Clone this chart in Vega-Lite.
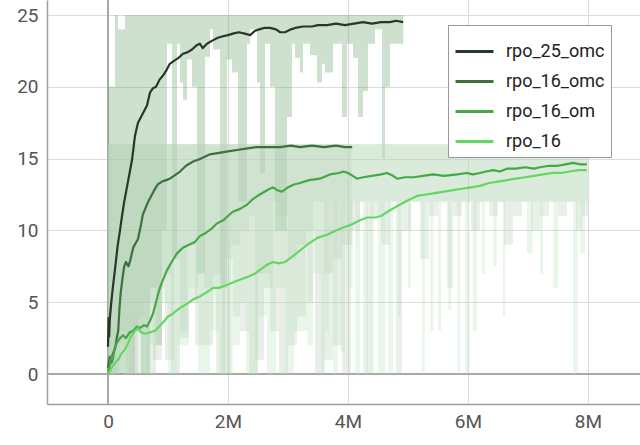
{
  "$schema": "https://vega.github.io/schema/vega-lite/v6.json",
  "autosize": {"type": "none"},
  "width": 593,
  "height": 404,
  "padding": {"left": 47, "top": 0, "right": 0, "bottom": 41},
  "background": "white",
  "config": {
    "view": {"stroke": null},
    "font": "Roboto",
    "axis": {"gridColor": "#dcdcdc", "gridWidth": 1.2, "domainColor": "#9e9e9e", "domainWidth": 1.5, "ticks": false, "labelFont": "Roboto", "labelFontSize": 19, "labelColor": "#555555", "title": null}
  },
  "datasets": {
    "lines": [
      {"run":"rpo_25_omc","step":0,"value":1.9},{"run":"rpo_25_omc","step":0.01,"value":3.9},{"run":"rpo_25_omc","step":0.02,"value":2.6},{"run":"rpo_25_omc","step":0.03,"value":3.8},{"run":"rpo_25_omc","step":0.05,"value":4.8},{"run":"rpo_25_omc","step":0.08,"value":6.0},{"run":"rpo_25_omc","step":0.12,"value":7.4},{"run":"rpo_25_omc","step":0.16,"value":8.9},{"run":"rpo_25_omc","step":0.2,"value":10.0},{"run":"rpo_25_omc","step":0.23,"value":10.9},{"run":"rpo_25_omc","step":0.27,"value":12.0},{"run":"rpo_25_omc","step":0.32,"value":13.1},{"run":"rpo_25_omc","step":0.36,"value":14.0},{"run":"rpo_25_omc","step":0.4,"value":14.9},{"run":"rpo_25_omc","step":0.45,"value":16.6},{"run":"rpo_25_omc","step":0.5,"value":17.5},{"run":"rpo_25_omc","step":0.55,"value":17.9},{"run":"rpo_25_omc","step":0.6,"value":18.3},{"run":"rpo_25_omc","step":0.65,"value":18.7},{"run":"rpo_25_omc","step":0.7,"value":19.6},{"run":"rpo_25_omc","step":0.75,"value":19.9},{"run":"rpo_25_omc","step":0.8,"value":20.0},{"run":"rpo_25_omc","step":0.86,"value":20.5},{"run":"rpo_25_omc","step":0.92,"value":20.8},{"run":"rpo_25_omc","step":0.98,"value":21.2},{"run":"rpo_25_omc","step":1.03,"value":21.6},{"run":"rpo_25_omc","step":1.1,"value":21.8},{"run":"rpo_25_omc","step":1.17,"value":22.0},{"run":"rpo_25_omc","step":1.25,"value":22.3},{"run":"rpo_25_omc","step":1.32,"value":22.4},{"run":"rpo_25_omc","step":1.4,"value":22.6},{"run":"rpo_25_omc","step":1.48,"value":22.9},{"run":"rpo_25_omc","step":1.53,"value":23.0},{"run":"rpo_25_omc","step":1.58,"value":22.7},{"run":"rpo_25_omc","step":1.65,"value":23.0},{"run":"rpo_25_omc","step":1.73,"value":23.2},{"run":"rpo_25_omc","step":1.82,"value":23.4},{"run":"rpo_25_omc","step":1.9,"value":23.5},{"run":"rpo_25_omc","step":2.0,"value":23.6},{"run":"rpo_25_omc","step":2.08,"value":23.7},{"run":"rpo_25_omc","step":2.18,"value":23.8},{"run":"rpo_25_omc","step":2.28,"value":23.7},{"run":"rpo_25_omc","step":2.37,"value":23.6},{"run":"rpo_25_omc","step":2.45,"value":23.9},{"run":"rpo_25_omc","step":2.52,"value":24.0},{"run":"rpo_25_omc","step":2.6,"value":24.1},{"run":"rpo_25_omc","step":2.7,"value":24.1},{"run":"rpo_25_omc","step":2.8,"value":24.0},{"run":"rpo_25_omc","step":2.87,"value":23.8},{"run":"rpo_25_omc","step":2.95,"value":23.8},{"run":"rpo_25_omc","step":3.05,"value":24.0},{"run":"rpo_25_omc","step":3.12,"value":24.1},{"run":"rpo_25_omc","step":3.25,"value":24.2},{"run":"rpo_25_omc","step":3.4,"value":24.2},{"run":"rpo_25_omc","step":3.5,"value":24.3},{"run":"rpo_25_omc","step":3.65,"value":24.3},{"run":"rpo_25_omc","step":3.8,"value":24.4},{"run":"rpo_25_omc","step":3.95,"value":24.3},{"run":"rpo_25_omc","step":4.1,"value":24.4},{"run":"rpo_25_omc","step":4.25,"value":24.5},{"run":"rpo_25_omc","step":4.4,"value":24.4},{"run":"rpo_25_omc","step":4.55,"value":24.5},{"run":"rpo_25_omc","step":4.7,"value":24.5},{"run":"rpo_25_omc","step":4.8,"value":24.6},{"run":"rpo_25_omc","step":4.92,"value":24.5},
      {"run":"rpo_16_omc","step":0,"value":0.4},{"run":"rpo_16_omc","step":0.03,"value":1.2},{"run":"rpo_16_omc","step":0.06,"value":0.8},{"run":"rpo_16_omc","step":0.09,"value":1.5},{"run":"rpo_16_omc","step":0.12,"value":1.8},{"run":"rpo_16_omc","step":0.15,"value":2.6},{"run":"rpo_16_omc","step":0.17,"value":3.0},{"run":"rpo_16_omc","step":0.19,"value":4.5},{"run":"rpo_16_omc","step":0.21,"value":5.6},{"run":"rpo_16_omc","step":0.24,"value":6.6},{"run":"rpo_16_omc","step":0.27,"value":7.5},{"run":"rpo_16_omc","step":0.3,"value":7.8},{"run":"rpo_16_omc","step":0.34,"value":7.5},{"run":"rpo_16_omc","step":0.37,"value":7.9},{"run":"rpo_16_omc","step":0.42,"value":8.8},{"run":"rpo_16_omc","step":0.46,"value":9.1},{"run":"rpo_16_omc","step":0.5,"value":9.4},{"run":"rpo_16_omc","step":0.55,"value":10.4},{"run":"rpo_16_omc","step":0.58,"value":11.1},{"run":"rpo_16_omc","step":0.62,"value":11.5},{"run":"rpo_16_omc","step":0.67,"value":12.0},{"run":"rpo_16_omc","step":0.72,"value":12.4},{"run":"rpo_16_omc","step":0.77,"value":12.8},{"run":"rpo_16_omc","step":0.83,"value":13.2},{"run":"rpo_16_omc","step":0.9,"value":13.4},{"run":"rpo_16_omc","step":0.97,"value":13.5},{"run":"rpo_16_omc","step":1.03,"value":13.6},{"run":"rpo_16_omc","step":1.1,"value":13.8},{"run":"rpo_16_omc","step":1.2,"value":14.1},{"run":"rpo_16_omc","step":1.3,"value":14.5},{"run":"rpo_16_omc","step":1.42,"value":14.8},{"run":"rpo_16_omc","step":1.55,"value":15.0},{"run":"rpo_16_omc","step":1.7,"value":15.3},{"run":"rpo_16_omc","step":1.85,"value":15.4},{"run":"rpo_16_omc","step":2.0,"value":15.5},{"run":"rpo_16_omc","step":2.15,"value":15.6},{"run":"rpo_16_omc","step":2.3,"value":15.7},{"run":"rpo_16_omc","step":2.48,"value":15.8},{"run":"rpo_16_omc","step":2.65,"value":15.8},{"run":"rpo_16_omc","step":2.87,"value":15.8},{"run":"rpo_16_omc","step":3.05,"value":15.9},{"run":"rpo_16_omc","step":3.2,"value":15.8},{"run":"rpo_16_omc","step":3.4,"value":15.9},{"run":"rpo_16_omc","step":3.6,"value":15.8},{"run":"rpo_16_omc","step":3.8,"value":15.9},{"run":"rpo_16_omc","step":3.95,"value":15.8},{"run":"rpo_16_omc","step":4.07,"value":15.8},
      {"run":"rpo_16_om","step":0,"value":0.0},{"run":"rpo_16_om","step":0.03,"value":0.6},{"run":"rpo_16_om","step":0.06,"value":1.3},{"run":"rpo_16_om","step":0.08,"value":1.0},{"run":"rpo_16_om","step":0.11,"value":1.8},{"run":"rpo_16_om","step":0.15,"value":2.2},{"run":"rpo_16_om","step":0.2,"value":2.5},{"run":"rpo_16_om","step":0.25,"value":2.7},{"run":"rpo_16_om","step":0.3,"value":2.5},{"run":"rpo_16_om","step":0.36,"value":2.9},{"run":"rpo_16_om","step":0.42,"value":3.0},{"run":"rpo_16_om","step":0.48,"value":3.3},{"run":"rpo_16_om","step":0.53,"value":3.2},{"run":"rpo_16_om","step":0.6,"value":3.4},{"run":"rpo_16_om","step":0.65,"value":3.3},{"run":"rpo_16_om","step":0.7,"value":3.7},{"run":"rpo_16_om","step":0.75,"value":4.2},{"run":"rpo_16_om","step":0.8,"value":5.0},{"run":"rpo_16_om","step":0.85,"value":5.8},{"run":"rpo_16_om","step":0.9,"value":6.4},{"run":"rpo_16_om","step":0.98,"value":7.2},{"run":"rpo_16_om","step":1.06,"value":7.8},{"run":"rpo_16_om","step":1.15,"value":8.4},{"run":"rpo_16_om","step":1.25,"value":8.8},{"run":"rpo_16_om","step":1.35,"value":9.0},{"run":"rpo_16_om","step":1.45,"value":9.2},{"run":"rpo_16_om","step":1.53,"value":9.6},{"run":"rpo_16_om","step":1.62,"value":9.8},{"run":"rpo_16_om","step":1.72,"value":10.1},{"run":"rpo_16_om","step":1.82,"value":10.5},{"run":"rpo_16_om","step":1.92,"value":10.7},{"run":"rpo_16_om","step":2.0,"value":11.0},{"run":"rpo_16_om","step":2.08,"value":11.3},{"run":"rpo_16_om","step":2.2,"value":11.5},{"run":"rpo_16_om","step":2.32,"value":11.8},{"run":"rpo_16_om","step":2.42,"value":12.2},{"run":"rpo_16_om","step":2.53,"value":12.5},{"run":"rpo_16_om","step":2.65,"value":12.8},{"run":"rpo_16_om","step":2.75,"value":13.0},{"run":"rpo_16_om","step":2.82,"value":12.8},{"run":"rpo_16_om","step":2.9,"value":12.7},{"run":"rpo_16_om","step":3.0,"value":13.0},{"run":"rpo_16_om","step":3.1,"value":13.2},{"run":"rpo_16_om","step":3.2,"value":13.3},{"run":"rpo_16_om","step":3.35,"value":13.5},{"run":"rpo_16_om","step":3.53,"value":13.6},{"run":"rpo_16_om","step":3.7,"value":13.9},{"run":"rpo_16_om","step":3.85,"value":14.0},{"run":"rpo_16_om","step":3.92,"value":14.1},{"run":"rpo_16_om","step":4.0,"value":14.0},{"run":"rpo_16_om","step":4.08,"value":13.8},{"run":"rpo_16_om","step":4.15,"value":13.6},{"run":"rpo_16_om","step":4.25,"value":13.7},{"run":"rpo_16_om","step":4.4,"value":13.8},{"run":"rpo_16_om","step":4.55,"value":13.9},{"run":"rpo_16_om","step":4.65,"value":14.0},{"run":"rpo_16_om","step":4.75,"value":13.8},{"run":"rpo_16_om","step":4.82,"value":13.6},{"run":"rpo_16_om","step":4.95,"value":13.7},{"run":"rpo_16_om","step":5.1,"value":13.7},{"run":"rpo_16_om","step":5.25,"value":13.8},{"run":"rpo_16_om","step":5.42,"value":13.9},{"run":"rpo_16_om","step":5.6,"value":13.8},{"run":"rpo_16_om","step":5.82,"value":13.9},{"run":"rpo_16_om","step":5.98,"value":14.0},{"run":"rpo_16_om","step":6.08,"value":13.9},{"run":"rpo_16_om","step":6.2,"value":14.0},{"run":"rpo_16_om","step":6.3,"value":14.1},{"run":"rpo_16_om","step":6.42,"value":14.2},{"run":"rpo_16_om","step":6.53,"value":14.1},{"run":"rpo_16_om","step":6.65,"value":14.3},{"run":"rpo_16_om","step":6.8,"value":14.3},{"run":"rpo_16_om","step":6.95,"value":14.4},{"run":"rpo_16_om","step":7.1,"value":14.3},{"run":"rpo_16_om","step":7.2,"value":14.4},{"run":"rpo_16_om","step":7.35,"value":14.5},{"run":"rpo_16_om","step":7.5,"value":14.5},{"run":"rpo_16_om","step":7.62,"value":14.6},{"run":"rpo_16_om","step":7.75,"value":14.7},{"run":"rpo_16_om","step":7.88,"value":14.6},{"run":"rpo_16_om","step":7.98,"value":14.6},
      {"run":"rpo_16","step":0,"value":0.0},{"run":"rpo_16","step":0.03,"value":0.2},{"run":"rpo_16","step":0.07,"value":0.5},{"run":"rpo_16","step":0.12,"value":0.8},{"run":"rpo_16","step":0.17,"value":1.0},{"run":"rpo_16","step":0.22,"value":1.4},{"run":"rpo_16","step":0.28,"value":1.7},{"run":"rpo_16","step":0.33,"value":2.1},{"run":"rpo_16","step":0.38,"value":2.6},{"run":"rpo_16","step":0.45,"value":3.0},{"run":"rpo_16","step":0.5,"value":3.2},{"run":"rpo_16","step":0.55,"value":2.9},{"run":"rpo_16","step":0.62,"value":2.8},{"run":"rpo_16","step":0.7,"value":2.9},{"run":"rpo_16","step":0.78,"value":3.0},{"run":"rpo_16","step":0.85,"value":3.3},{"run":"rpo_16","step":0.92,"value":3.6},{"run":"rpo_16","step":1.0,"value":4.0},{"run":"rpo_16","step":1.08,"value":4.2},{"run":"rpo_16","step":1.2,"value":4.6},{"run":"rpo_16","step":1.32,"value":4.9},{"run":"rpo_16","step":1.42,"value":5.2},{"run":"rpo_16","step":1.53,"value":5.4},{"run":"rpo_16","step":1.65,"value":5.7},{"run":"rpo_16","step":1.75,"value":6.0},{"run":"rpo_16","step":1.85,"value":6.0},{"run":"rpo_16","step":1.98,"value":6.2},{"run":"rpo_16","step":2.1,"value":6.4},{"run":"rpo_16","step":2.22,"value":6.6},{"run":"rpo_16","step":2.35,"value":6.8},{"run":"rpo_16","step":2.45,"value":7.0},{"run":"rpo_16","step":2.55,"value":7.3},{"run":"rpo_16","step":2.65,"value":7.6},{"run":"rpo_16","step":2.75,"value":7.8},{"run":"rpo_16","step":2.85,"value":7.7},{"run":"rpo_16","step":2.95,"value":7.8},{"run":"rpo_16","step":3.05,"value":8.1},{"run":"rpo_16","step":3.2,"value":8.6},{"run":"rpo_16","step":3.35,"value":9.1},{"run":"rpo_16","step":3.5,"value":9.5},{"run":"rpo_16","step":3.65,"value":9.7},{"run":"rpo_16","step":3.8,"value":10.0},{"run":"rpo_16","step":3.92,"value":10.2},{"run":"rpo_16","step":4.05,"value":10.4},{"run":"rpo_16","step":4.2,"value":10.7},{"run":"rpo_16","step":4.32,"value":10.9},{"run":"rpo_16","step":4.45,"value":10.9},{"run":"rpo_16","step":4.55,"value":11.0},{"run":"rpo_16","step":4.7,"value":11.4},{"run":"rpo_16","step":4.87,"value":11.8},{"run":"rpo_16","step":5.0,"value":12.1},{"run":"rpo_16","step":5.15,"value":12.4},{"run":"rpo_16","step":5.3,"value":12.5},{"run":"rpo_16","step":5.45,"value":12.6},{"run":"rpo_16","step":5.6,"value":12.7},{"run":"rpo_16","step":5.75,"value":12.8},{"run":"rpo_16","step":5.9,"value":12.9},{"run":"rpo_16","step":6.05,"value":13.0},{"run":"rpo_16","step":6.2,"value":13.1},{"run":"rpo_16","step":6.35,"value":13.3},{"run":"rpo_16","step":6.5,"value":13.4},{"run":"rpo_16","step":6.65,"value":13.5},{"run":"rpo_16","step":6.8,"value":13.6},{"run":"rpo_16","step":6.95,"value":13.7},{"run":"rpo_16","step":7.1,"value":13.8},{"run":"rpo_16","step":7.25,"value":13.9},{"run":"rpo_16","step":7.4,"value":14.0},{"run":"rpo_16","step":7.55,"value":14.0},{"run":"rpo_16","step":7.7,"value":14.1},{"run":"rpo_16","step":7.85,"value":14.2},{"run":"rpo_16","step":7.98,"value":14.2}
    ],
    "bands": [
      {"run":"rpo_25_omc","step":0,"hi":20,"lo":0},{"run":"rpo_25_omc","step":0.117,"hi":25,"lo":0},{"run":"rpo_25_omc","step":0.167,"hi":24,"lo":0},{"run":"rpo_25_omc","step":0.283,"hi":25,"lo":0},{"run":"rpo_25_omc","step":0.45,"hi":25,"lo":3},{"run":"rpo_25_omc","step":0.55,"hi":25,"lo":0},{"run":"rpo_25_omc","step":0.7,"hi":25,"lo":6},{"run":"rpo_25_omc","step":0.8,"hi":25,"lo":2},{"run":"rpo_25_omc","step":0.9,"hi":25,"lo":10},{"run":"rpo_25_omc","step":0.983,"hi":25,"lo":23},{"run":"rpo_25_omc","step":1.067,"hi":25,"lo":8},{"run":"rpo_25_omc","step":1.15,"hi":25,"lo":23},{"run":"rpo_25_omc","step":1.2,"hi":25,"lo":20.3},{"run":"rpo_25_omc","step":1.25,"hi":25,"lo":19.1},{"run":"rpo_25_omc","step":1.317,"hi":25,"lo":21.9},{"run":"rpo_25_omc","step":1.4,"hi":25,"lo":20},{"run":"rpo_25_omc","step":1.483,"hi":25,"lo":7},{"run":"rpo_25_omc","step":1.617,"hi":25,"lo":22.1},{"run":"rpo_25_omc","step":1.7,"hi":25,"lo":24},{"run":"rpo_25_omc","step":1.75,"hi":25,"lo":22.6},{"run":"rpo_25_omc","step":1.867,"hi":25,"lo":6},{"run":"rpo_25_omc","step":1.983,"hi":25,"lo":21.9},{"run":"rpo_25_omc","step":2.067,"hi":25,"lo":21},{"run":"rpo_25_omc","step":2.167,"hi":25,"lo":12},{"run":"rpo_25_omc","step":2.317,"hi":25,"lo":23},{"run":"rpo_25_omc","step":2.367,"hi":25,"lo":24},{"run":"rpo_25_omc","step":2.483,"hi":25,"lo":20.3},{"run":"rpo_25_omc","step":2.533,"hi":25,"lo":14},{"run":"rpo_25_omc","step":2.617,"hi":25,"lo":23},{"run":"rpo_25_omc","step":2.7,"hi":25,"lo":20},{"run":"rpo_25_omc","step":2.783,"hi":25,"lo":10},{"run":"rpo_25_omc","step":2.983,"hi":25,"lo":17.9},{"run":"rpo_25_omc","step":3.067,"hi":25,"lo":23},{"run":"rpo_25_omc","step":3.117,"hi":25,"lo":22},{"run":"rpo_25_omc","step":3.2,"hi":25,"lo":21},{"run":"rpo_25_omc","step":3.25,"hi":25,"lo":23},{"run":"rpo_25_omc","step":3.367,"hi":25,"lo":22.2},{"run":"rpo_25_omc","step":3.483,"hi":25,"lo":20.3},{"run":"rpo_25_omc","step":3.567,"hi":25,"lo":21.6},{"run":"rpo_25_omc","step":3.617,"hi":25,"lo":21},{"run":"rpo_25_omc","step":3.75,"hi":25,"lo":23},{"run":"rpo_25_omc","step":3.9,"hi":25,"lo":17.9},{"run":"rpo_25_omc","step":3.983,"hi":25,"lo":23},{"run":"rpo_25_omc","step":4.083,"hi":25,"lo":22},{"run":"rpo_25_omc","step":4.167,"hi":25,"lo":17.9},{"run":"rpo_25_omc","step":4.25,"hi":25,"lo":19.7},{"run":"rpo_25_omc","step":4.333,"hi":25,"lo":23},{"run":"rpo_25_omc","step":4.45,"hi":25,"lo":24},{"run":"rpo_25_omc","step":4.567,"hi":25,"lo":15},{"run":"rpo_25_omc","step":4.617,"hi":25,"lo":20},{"run":"rpo_25_omc","step":4.7,"hi":25,"lo":23},{"run":"rpo_25_omc","step":4.92,"hi":25,"lo":23},
      {"run":"rpo_16_omc","step":0,"hi":16,"lo":0},{"run":"rpo_16_omc","step":0.15,"hi":16,"lo":2},{"run":"rpo_16_omc","step":0.3,"hi":16,"lo":0},{"run":"rpo_16_omc","step":0.5,"hi":16,"lo":4},{"run":"rpo_16_omc","step":0.62,"hi":16,"lo":0},{"run":"rpo_16_omc","step":0.8,"hi":16,"lo":6},{"run":"rpo_16_omc","step":0.95,"hi":16,"lo":1},{"run":"rpo_16_omc","step":1.1,"hi":16,"lo":8},{"run":"rpo_16_omc","step":1.2,"hi":16,"lo":2.5},{"run":"rpo_16_omc","step":1.35,"hi":16,"lo":5},{"run":"rpo_16_omc","step":1.5,"hi":16,"lo":10},{"run":"rpo_16_omc","step":1.6,"hi":16,"lo":2},{"run":"rpo_16_omc","step":1.75,"hi":16,"lo":7},{"run":"rpo_16_omc","step":1.9,"hi":16,"lo":0},{"run":"rpo_16_omc","step":2.05,"hi":16,"lo":9},{"run":"rpo_16_omc","step":2.2,"hi":16,"lo":3},{"run":"rpo_16_omc","step":2.35,"hi":16,"lo":11},{"run":"rpo_16_omc","step":2.45,"hi":16,"lo":1},{"run":"rpo_16_omc","step":2.6,"hi":16,"lo":6},{"run":"rpo_16_omc","step":2.75,"hi":16,"lo":12},{"run":"rpo_16_omc","step":2.85,"hi":16,"lo":0},{"run":"rpo_16_omc","step":3.0,"hi":16,"lo":8},{"run":"rpo_16_omc","step":3.15,"hi":16,"lo":4},{"run":"rpo_16_omc","step":3.3,"hi":16,"lo":10},{"run":"rpo_16_omc","step":3.45,"hi":16,"lo":0},{"run":"rpo_16_omc","step":3.6,"hi":16,"lo":7},{"run":"rpo_16_omc","step":3.75,"hi":16,"lo":2},{"run":"rpo_16_omc","step":3.9,"hi":16,"lo":9},{"run":"rpo_16_omc","step":4.07,"hi":16,"lo":9},
      {"run":"rpo_16_om","step":0,"hi":16,"lo":0},{"run":"rpo_16_om","step":0.2,"hi":16,"lo":3},{"run":"rpo_16_om","step":0.35,"hi":16,"lo":0},{"run":"rpo_16_om","step":0.6,"hi":16,"lo":5},{"run":"rpo_16_om","step":0.75,"hi":16,"lo":1},{"run":"rpo_16_om","step":0.9,"hi":16,"lo":7},{"run":"rpo_16_om","step":1.05,"hi":16,"lo":0},{"run":"rpo_16_om","step":1.2,"hi":16,"lo":3},{"run":"rpo_16_om","step":1.32,"hi":16,"lo":9},{"run":"rpo_16_om","step":1.45,"hi":16,"lo":2},{"run":"rpo_16_om","step":1.6,"hi":16,"lo":6},{"run":"rpo_16_om","step":1.8,"hi":16,"lo":0},{"run":"rpo_16_om","step":1.95,"hi":16,"lo":8},{"run":"rpo_16_om","step":2.08,"hi":16,"lo":4},{"run":"rpo_16_om","step":2.2,"hi":16,"lo":10},{"run":"rpo_16_om","step":2.35,"hi":16,"lo":0},{"run":"rpo_16_om","step":2.5,"hi":16,"lo":7},{"run":"rpo_16_om","step":2.7,"hi":16,"lo":3},{"run":"rpo_16_om","step":2.85,"hi":16,"lo":11},{"run":"rpo_16_om","step":3.0,"hi":16,"lo":2},{"run":"rpo_16_om","step":3.15,"hi":16,"lo":9},{"run":"rpo_16_om","step":3.32,"hi":16,"lo":5},{"run":"rpo_16_om","step":3.42,"hi":16,"lo":12},{"run":"rpo_16_om","step":3.6,"hi":16,"lo":1},{"run":"rpo_16_om","step":3.75,"hi":16,"lo":8},{"run":"rpo_16_om","step":3.9,"hi":16,"lo":0},{"run":"rpo_16_om","step":4.05,"hi":16,"lo":10},{"run":"rpo_16_om","step":4.2,"hi":16,"lo":12},{"run":"rpo_16_om","step":4.3,"hi":16,"lo":0},{"run":"rpo_16_om","step":4.4,"hi":16,"lo":11},{"run":"rpo_16_om","step":4.55,"hi":16,"lo":9},{"run":"rpo_16_om","step":4.7,"hi":16,"lo":12},{"run":"rpo_16_om","step":4.8,"hi":16,"lo":0},{"run":"rpo_16_om","step":4.9,"hi":16,"lo":10},{"run":"rpo_16_om","step":5.05,"hi":16,"lo":12},{"run":"rpo_16_om","step":5.2,"hi":16,"lo":8},{"run":"rpo_16_om","step":5.35,"hi":16,"lo":11},{"run":"rpo_16_om","step":5.5,"hi":16,"lo":12},{"run":"rpo_16_om","step":5.65,"hi":16,"lo":6},{"run":"rpo_16_om","step":5.75,"hi":16,"lo":11},{"run":"rpo_16_om","step":5.9,"hi":16,"lo":12},{"run":"rpo_16_om","step":6.05,"hi":16,"lo":10},{"run":"rpo_16_om","step":6.2,"hi":16,"lo":12},{"run":"rpo_16_om","step":6.35,"hi":16,"lo":11},{"run":"rpo_16_om","step":6.5,"hi":16,"lo":12},{"run":"rpo_16_om","step":6.6,"hi":16,"lo":9},{"run":"rpo_16_om","step":6.75,"hi":16,"lo":11},{"run":"rpo_16_om","step":6.9,"hi":16,"lo":12},{"run":"rpo_16_om","step":7.05,"hi":16,"lo":10},{"run":"rpo_16_om","step":7.2,"hi":16,"lo":11},{"run":"rpo_16_om","step":7.35,"hi":16,"lo":12},{"run":"rpo_16_om","step":7.5,"hi":16,"lo":11},{"run":"rpo_16_om","step":7.65,"hi":16,"lo":12},{"run":"rpo_16_om","step":7.8,"hi":16,"lo":10},{"run":"rpo_16_om","step":7.9,"hi":16,"lo":11},{"run":"rpo_16_om","step":8.0,"hi":16,"lo":11},
      {"run":"rpo_16","step":0,"hi":16,"lo":0},{"run":"rpo_16","step":0.1,"hi":16,"lo":2},{"run":"rpo_16","step":0.25,"hi":16,"lo":0},{"run":"rpo_16","step":0.4,"hi":16,"lo":4},{"run":"rpo_16","step":0.55,"hi":16,"lo":0},{"run":"rpo_16","step":0.7,"hi":16,"lo":2},{"run":"rpo_16","step":0.85,"hi":16,"lo":5},{"run":"rpo_16","step":1.0,"hi":16,"lo":0},{"run":"rpo_16","step":1.15,"hi":16,"lo":2},{"run":"rpo_16","step":1.35,"hi":16,"lo":6},{"run":"rpo_16","step":1.5,"hi":16,"lo":0},{"run":"rpo_16","step":1.7,"hi":16,"lo":3},{"run":"rpo_16","step":1.85,"hi":16,"lo":0},{"run":"rpo_16","step":2.08,"hi":16,"lo":2},{"run":"rpo_16","step":2.2,"hi":16,"lo":5},{"run":"rpo_16","step":2.3,"hi":16,"lo":0},{"run":"rpo_16","step":2.5,"hi":16,"lo":4},{"run":"rpo_16","step":2.65,"hi":16,"lo":0},{"run":"rpo_16","step":2.8,"hi":16,"lo":6},{"run":"rpo_16","step":2.95,"hi":16,"lo":0},{"run":"rpo_16","step":3.1,"hi":16,"lo":3},{"run":"rpo_16","step":3.32,"hi":16,"lo":2},{"run":"rpo_16","step":3.42,"hi":16,"lo":7},{"run":"rpo_16","step":3.55,"hi":16,"lo":0},{"run":"rpo_16","step":3.62,"hi":16,"lo":3},{"run":"rpo_16","step":3.68,"hi":16,"lo":12},{"run":"rpo_16","step":3.75,"hi":16,"lo":0},{"run":"rpo_16","step":3.83,"hi":16,"lo":12},{"run":"rpo_16","step":3.87,"hi":16,"lo":1.5},{"run":"rpo_16","step":3.95,"hi":16,"lo":12},{"run":"rpo_16","step":4.03,"hi":16,"lo":6},{"run":"rpo_16","step":4.08,"hi":16,"lo":12},{"run":"rpo_16","step":4.12,"hi":16,"lo":0},{"run":"rpo_16","step":4.2,"hi":16,"lo":12},{"run":"rpo_16","step":4.25,"hi":16,"lo":0},{"run":"rpo_16","step":4.33,"hi":16,"lo":12},{"run":"rpo_16","step":4.38,"hi":16,"lo":0},{"run":"rpo_16","step":4.43,"hi":16,"lo":12},{"run":"rpo_16","step":4.5,"hi":16,"lo":0},{"run":"rpo_16","step":4.62,"hi":16,"lo":12},{"run":"rpo_16","step":4.67,"hi":16,"lo":0},{"run":"rpo_16","step":4.75,"hi":16,"lo":12},{"run":"rpo_16","step":4.83,"hi":16,"lo":4},{"run":"rpo_16","step":4.88,"hi":16,"lo":12},{"run":"rpo_16","step":5.0,"hi":16,"lo":6},{"run":"rpo_16","step":5.05,"hi":16,"lo":12},{"run":"rpo_16","step":5.23,"hi":16,"lo":0},{"run":"rpo_16","step":5.28,"hi":16,"lo":12},{"run":"rpo_16","step":5.37,"hi":16,"lo":3},{"run":"rpo_16","step":5.42,"hi":16,"lo":12},{"run":"rpo_16","step":5.5,"hi":16,"lo":3},{"run":"rpo_16","step":5.55,"hi":16,"lo":12},{"run":"rpo_16","step":5.67,"hi":16,"lo":4.5},{"run":"rpo_16","step":5.72,"hi":16,"lo":12},{"run":"rpo_16","step":5.82,"hi":16,"lo":0},{"run":"rpo_16","step":5.87,"hi":16,"lo":12},{"run":"rpo_16","step":5.95,"hi":16,"lo":0},{"run":"rpo_16","step":6.0,"hi":16,"lo":12},{"run":"rpo_16","step":6.08,"hi":16,"lo":3},{"run":"rpo_16","step":6.15,"hi":16,"lo":12},{"run":"rpo_16","step":6.23,"hi":16,"lo":7},{"run":"rpo_16","step":6.28,"hi":16,"lo":12},{"run":"rpo_16","step":6.42,"hi":16,"lo":7.5},{"run":"rpo_16","step":6.48,"hi":16,"lo":12},{"run":"rpo_16","step":6.58,"hi":16,"lo":4},{"run":"rpo_16","step":6.62,"hi":16,"lo":12},{"run":"rpo_16","step":6.98,"hi":16,"lo":8.4},{"run":"rpo_16","step":7.08,"hi":16,"lo":12},{"run":"rpo_16","step":7.2,"hi":16,"lo":7},{"run":"rpo_16","step":7.25,"hi":16,"lo":12},{"run":"rpo_16","step":7.42,"hi":16,"lo":6},{"run":"rpo_16","step":7.5,"hi":16,"lo":12},{"run":"rpo_16","step":7.75,"hi":16,"lo":0},{"run":"rpo_16","step":7.83,"hi":16,"lo":12},{"run":"rpo_16","step":7.87,"hi":16,"lo":8.4},{"run":"rpo_16","step":7.95,"hi":16,"lo":12},{"run":"rpo_16","step":8.0,"hi":16,"lo":12}
    ]
  },
  "layer": [
    {
      "data": {"values": [{"zero": 0}]},
      "mark": {"type": "rule", "color": "#a8a8a8", "strokeWidth": 2},
      "encoding": {
        "x": {"field": "zero", "type": "quantitative", "scale": {"domain": [-1.0167, 8.8667], "nice": false, "zero": false}, "axis": {"values": [0, 2, 4, 6, 8], "labelExpr": "datum.value == 0 ? '0' : datum.value + 'M'", "labelPadding": 8, "domainColor": "#9e9e9e"}}
      }
    },
    {
      "data": {"values": [{"zero": 0}]},
      "mark": {"type": "rule", "color": "#a8a8a8", "strokeWidth": 2},
      "encoding": {
        "y": {"field": "zero", "type": "quantitative", "scale": {"domain": [-2.089, 26.045], "nice": false, "zero": false}, "axis": {"values": [0, 5, 10, 15, 20, 25], "labelPadding": 9}}
      }
    },
    {
      "data": {"name": "bands"},
      "mark": {"type": "area", "interpolate": "step-after", "fillOpacity": 0.3},
      "encoding": {
        "x": {"field": "step", "type": "quantitative"},
        "y": {"field": "hi", "type": "quantitative"},
        "y2": {"field": "lo"},
        "detail": {"field": "run"},
        "fill": {"field": "run", "type": "nominal", "legend": null, "scale": {"domain": ["rpo_25_omc", "rpo_16_omc", "rpo_16_om", "rpo_16"], "range": ["#5e9a5e", "#b4c8b4", "#b4ceb4", "#bce2bc"]}}
      }
    },
    {
      "data": {"name": "lines"},
      "mark": {"type": "line", "strokeWidth": 2.2, "strokeJoin": "round"},
      "encoding": {
        "x": {"field": "step", "type": "quantitative"},
        "y": {"field": "value", "type": "quantitative"},
        "color": {"field": "run", "type": "nominal", "sort": null,
          "scale": {"domain": ["rpo_25_omc", "rpo_16_omc", "rpo_16_om", "rpo_16"], "range": ["#26382a", "#3e6f3e", "#45a845", "#62d862"]},
          "legend": {"orient": "none", "legendX": 401, "legendY": 25, "title": null, "symbolType": "stroke", "symbolSize": 1444, "symbolStrokeWidth": 3, "labelFont": "Roboto", "labelFontSize": 18, "labelColor": "#222222", "labelOffset": 11, "padding": 6, "rowPadding": -14, "fillColor": "white", "strokeColor": "#999999", "cornerRadius": 0}
        }
      }
    }
  ],
  "resolve": {"scale": {"color": "independent"}}
}
